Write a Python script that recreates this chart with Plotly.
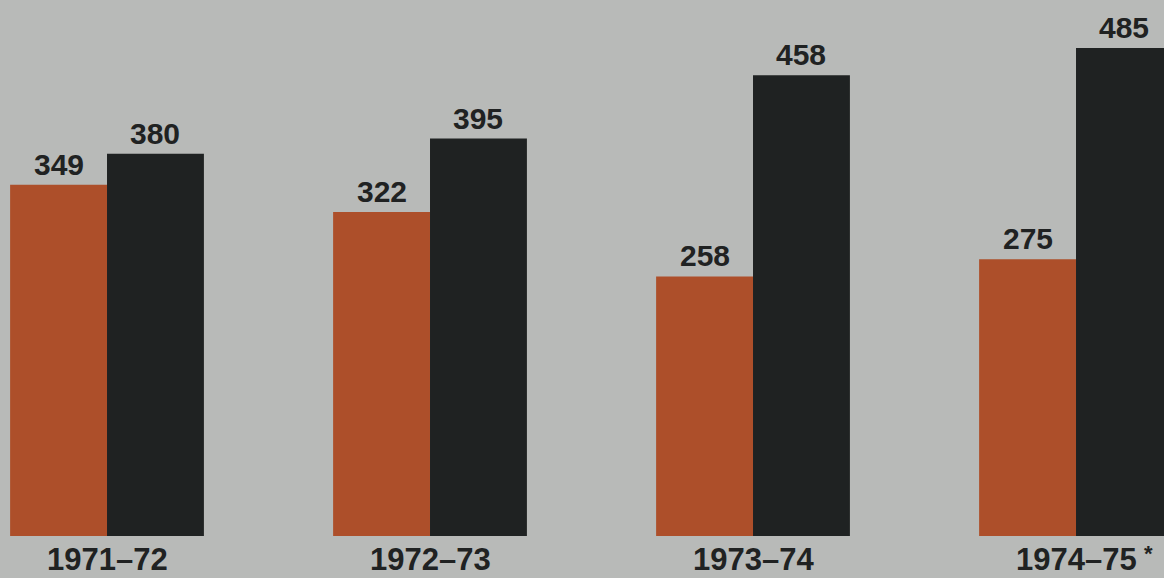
import plotly.graph_objects as go

# Seasons and the two series shown for each
seasons = ["1971–72", "1972–73", "1973–74", "1974–75"]
footnoted = [False, False, False, True]
orange_values = [349, 322, 258, 275]
black_values = [380, 395, 458, 485]

BG = "#b8bab8"
ORANGE = "#ad4f2a"
BLACK = "#1f2222"
TEXT = "#202222"
FONT = "Liberation Sans, Arial, sans-serif"

x_pos = list(range(len(seasons)))
bar_w = 0.3

fig = go.Figure()
fig.add_trace(go.Bar(
    x=x_pos, y=orange_values, width=bar_w, offset=-bar_w,
    marker=dict(color=ORANGE, line=dict(width=0)), showlegend=False,
))
fig.add_trace(go.Bar(
    x=x_pos, y=black_values, width=bar_w, offset=0,
    marker=dict(color=BLACK, line=dict(width=0)), showlegend=False,
))

# Value labels above each bar
for i, (o, b) in enumerate(zip(orange_values, black_values)):
    for val, cx in ((o, i - bar_w / 2), (b, i + bar_w / 2)):
        fig.add_annotation(
            x=cx, y=val, text=f"<b>{val}</b>", showarrow=False,
            xanchor="center", yanchor="bottom", yshift=2,
            font=dict(family=FONT, size=30, color=TEXT),
        )

# Season labels under each group, with a raised asterisk where footnoted
for i, (s, fn) in enumerate(zip(seasons, footnoted)):
    fig.add_annotation(
        x=i, y=0, text=f"<b>{s}</b>", showarrow=False,
        xanchor="center", yanchor="top", yshift=-4,
        font=dict(family=FONT, size=31, color=TEXT),
    )
    if fn:
        fig.add_annotation(
            x=i, y=0, text="<b>*</b>", showarrow=False,
            xanchor="left", yanchor="top", xshift=66, yshift=-3,
            font=dict(family=FONT, size=22, color=TEXT),
        )

fig.update_layout(
    width=1164, height=578,
    margin=dict(l=0, r=0, t=0, b=42),
    paper_bgcolor=BG, plot_bgcolor=BG,
    barmode="overlay",
    xaxis=dict(range=[-0.3313, 3.2724], showgrid=False, zeroline=False,
               showticklabels=False, fixedrange=True),
    yaxis=dict(range=[0, 532.7], showgrid=False, zeroline=False,
               showticklabels=False, fixedrange=True),
)

fig.write_html("out.html")
